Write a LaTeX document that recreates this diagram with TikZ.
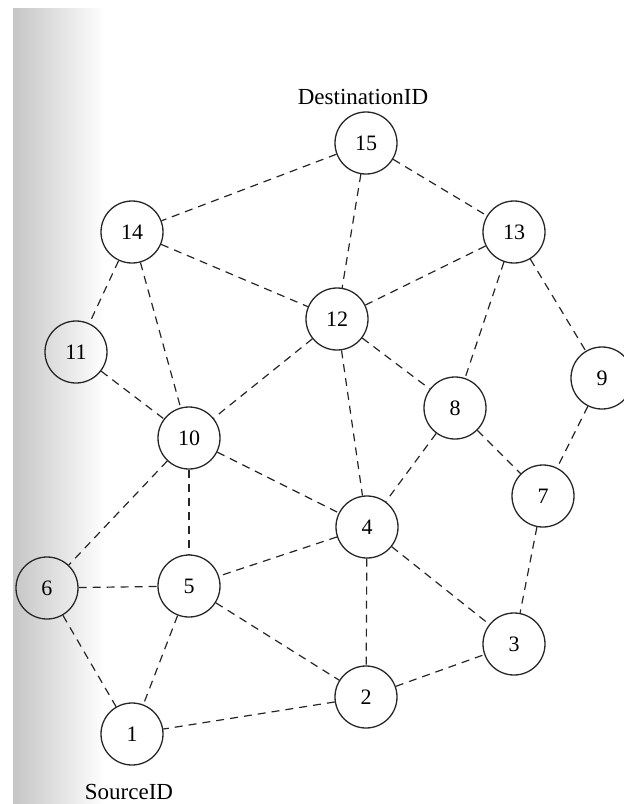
\documentclass[tikz,border=0pt]{standalone}
\usepackage{fontspec}
\setmainfont{Liberation Serif}
\begin{document}
\begin{tikzpicture}[x=1pt,y=-1pt,
  vertex/.style={circle,draw=black!85,line width=1.3pt,minimum size=62pt,inner sep=0pt,font=\fontsize{22}{22}\selectfont},
  link/.style={draw=black!85,line width=1.2pt,dash pattern=on 8pt off 6pt},
  caption/.style={font=\fontsize{23}{23}\selectfont,inner sep=0pt}]
\useasboundingbox (0,0) rectangle (624,804);
\fill[white] (0,0) rectangle (624,804);
\shade[left color=gray!45,right color=white] (13,8) rectangle (105,804);
\node[vertex] (n15) at (366,143) {15};
\node[vertex] (n14) at (132,232) {14};
\node[vertex] (n13) at (514,232) {13};
\node[vertex] (n12) at (337,319) {12};
\node[vertex] (n11) at (76,352) {11};
\node[vertex] (n10) at (189,438) {10};
\node[vertex] (n8) at (455,408) {8};
\node[vertex] (n9) at (602,378) {9};
\node[vertex] (n7) at (543,496) {7};
\node[vertex] (n4) at (367,527) {4};
\node[vertex] (n6) at (47,588) {6};
\node[vertex] (n5) at (189,586) {5};
\node[vertex] (n3) at (514,644) {3};
\node[vertex] (n2) at (366,697) {2};
\node[vertex] (n1) at (132,734) {1};
\node[caption] (dst) at (363,97) {DestinationID};
\node[caption] (src) at (129,792) {SourceID};
\draw[link] (n15) -- (n14);
\draw[link] (n15) -- (n12);
\draw[link] (n15) -- (n13);
\draw[link] (n14) -- (n12);
\draw[link] (n14) -- (n11);
\draw[link] (n14) -- (n10);
\draw[link] (n13) -- (n12);
\draw[link] (n13) -- (n8);
\draw[link] (n13) -- (n9);
\draw[link] (n12) -- (n10);
\draw[link] (n12) -- (n4);
\draw[link] (n12) -- (n8);
\draw[link] (n11) -- (n10);
\draw[link] (n9) -- (n7);
\draw[link] (n8) -- (n4);
\draw[link] (n8) -- (n7);
\draw[link] (n10) -- (n4);
\draw[link] (n10) -- (n5);
\draw[link] (n10) -- (n6);
\draw[link] (n7) -- (n3);
\draw[link] (n4) -- (n5);
\draw[link] (n4) -- (n2);
\draw[link] (n4) -- (n3);
\draw[link] (n6) -- (n5);
\draw[link] (n6) -- (n1);
\draw[link] (n5) -- (n1);
\draw[link] (n5) -- (n2);
\draw[link] (n2) -- (n3);
\draw[link] (n2) -- (n1);
\end{tikzpicture}
\end{document}
